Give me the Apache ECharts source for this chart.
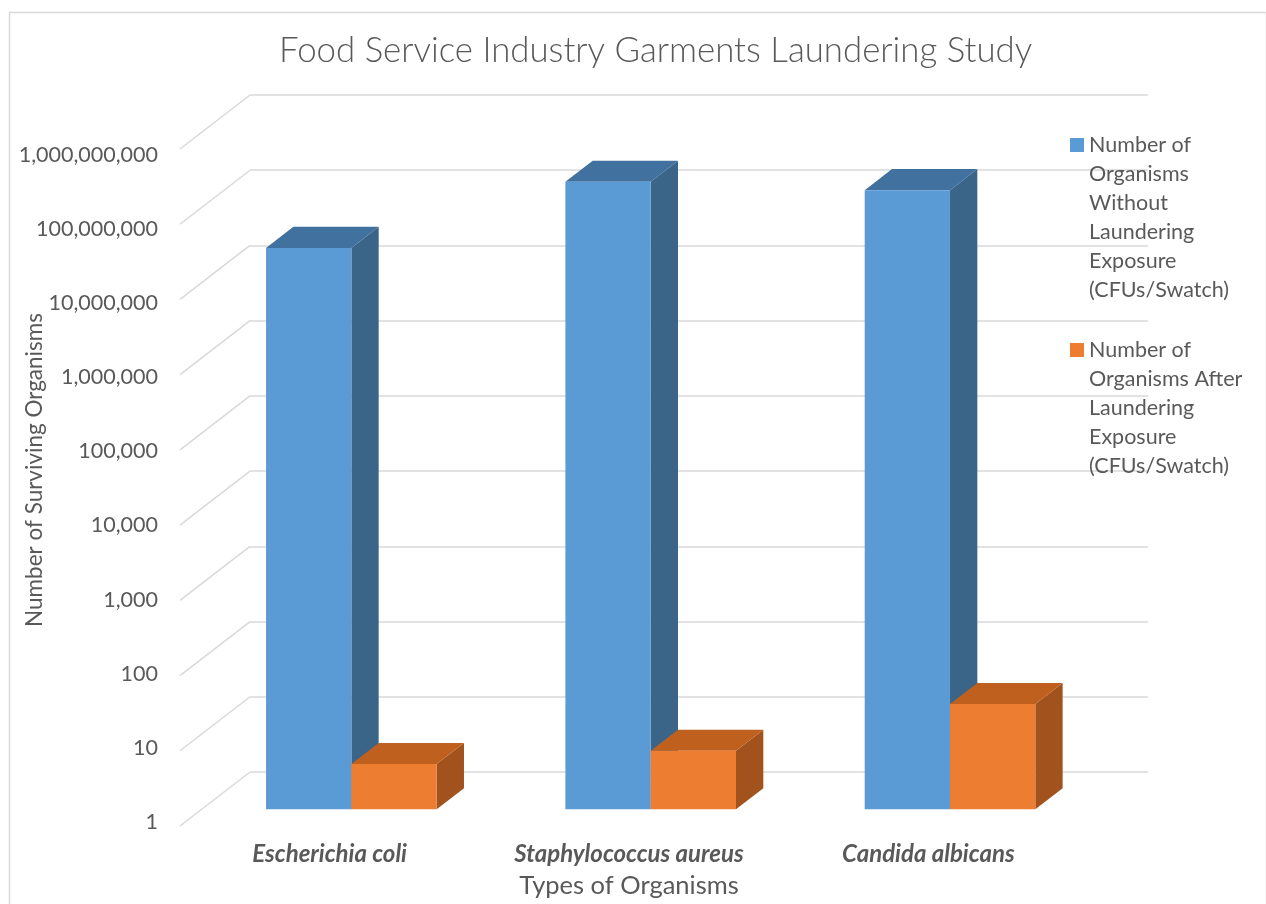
<!DOCTYPE html>
<html>
<head>
<meta charset="utf-8">
<script src="https://cdn.jsdelivr.net/npm/echarts@6/dist/echarts.min.js"></script>
<style>
  html, body { margin: 0; padding: 0; background: #ffffff; }
  #chart { width: 1266px; height: 904px; }
</style>
</head>
<body>
<div id="chart"></div>
<script>
// ---- data ----
const categories = ['Escherichia coli', 'Staphylococcus aureus', 'Candida albicans'];
const withoutLaundering = [29000000, 220000000, 170000000];
const afterLaundering = [4, 6, 25];
const yTickValues = [1, 10, 100, 1000, 10000, 100000, 1000000, 10000000, 100000000, 1000000000];
const seriesNames = [
  'Number of Organisms Without Laundering Exposure (CFUs/Swatch)',
  'Number of Organisms After Laundering Exposure (CFUs/Swatch)'
];
const legendLines = [
  ['Number of', 'Organisms', 'Without', 'Laundering', 'Exposure', '(CFUs/Swatch)'],
  ['Number of', 'Organisms After', 'Laundering', 'Exposure', '(CFUs/Swatch)']
];

// ---- oblique projection of the 3D box ----
const WALL_TO_FRONT = { dx: -70, dy: 54 };   // back wall -> front edge of floor
const BAR_FRONT = 0.69;                       // depth of the bar front faces (0 = wall, 1 = front)
const BAR_DEPTH = 0.39;                       // depth of each bar
const BAR_FRAC = 0.285;                       // bar width as share of a category band

const FONT = 'Lato, "Open Sans", sans-serif';
const TXT = '#595959';
const GRID_COLOR = '#d9d9d9';
const LEGEND_LH = 29;

const faceColors = [
  { front: '#5b9bd5', top: '#41719f', side: '#3a6488' },
  { front: '#ed7d31', top: '#c0601f', side: '#a1521d' }
];

function barRenderer(idx) {
  return function (params, api) {
    const cat = api.value(0);
    const v = api.value(1);
    const topPt = api.coord([cat, v]);
    const basePt = api.coord([cat, 1]);
    const band = api.size([1, 0])[0];
    const w = band * BAR_FRAC;
    const fdx = WALL_TO_FRONT.dx * BAR_FRONT, fdy = WALL_TO_FRONT.dy * BAR_FRONT;
    const ddx = -WALL_TO_FRONT.dx * BAR_DEPTH, ddy = -WALL_TO_FRONT.dy * BAR_DEPTH;
    const x0 = topPt[0] + fdx + (idx === 0 ? -w : 0);
    const x1 = x0 + w;
    const yT = topPt[1] + fdy;
    const yB = basePt[1] + fdy;
    const c = faceColors[idx];
    return {
      type: 'group',
      children: [
        { type: 'polygon', shape: { points: [[x1, yT], [x1 + ddx, yT + ddy], [x1 + ddx, yB + ddy], [x1, yB]] },
          style: { fill: c.side } },
        { type: 'polygon', shape: { points: [[x0, yT], [x1, yT], [x1 + ddx, yT + ddy], [x0 + ddx, yT + ddy]] },
          style: { fill: c.top } },
        { type: 'rect', shape: { x: x0, y: yT, width: w, height: yB - yT },
          style: { fill: c.front } }
      ]
    };
  };
}

function floorRenderer(params, api) {
  const y = api.coord([0, api.value(1)])[1];
  const x = params.coordSys.x;
  return {
    type: 'line',
    shape: { x1: x, y1: y, x2: x + WALL_TO_FRONT.dx, y2: y + WALL_TO_FRONT.dy },
    style: { stroke: GRID_COLOR, lineWidth: 1.5 }
  };
}

// Legend text is centred on its swatch; blank lines above the wrapped name
// bring the swatch level with the first line.
function legendFor(i, top) {
  const lines = legendLines[i];
  const blanks = [];
  for (let k = 1; k < lines.length; k++) blanks.push(' ');
  const text = blanks.concat(lines).join('\n');
  return {
    data: [seriesNames[i]],
    orient: 'vertical',
    left: 1070,
    top: top,
    padding: 0,
    icon: 'rect',
    itemWidth: 14,
    itemHeight: 14,
    selectedMode: false,
    formatter: function () { return text; },
    textStyle: { fontFamily: FONT, fontSize: 21.5, color: TXT, lineHeight: LEGEND_LH }
  };
}

const chart = echarts.init(document.getElementById('chart'), null, { renderer: 'canvas' });

chart.setOption({
  backgroundColor: '#ffffff',
  animation: false,
  title: {
    text: 'Food Service Industry Garments Laundering Study',
    left: 274,
    top: 28,
    textStyle: { fontFamily: FONT, fontSize: 34.8, fontWeight: 300, color: TXT }
  },
  graphic: [
    {
      type: 'rect', left: 7, top: 10, silent: true,
      shape: { width: 1257, height: 900 },
      style: { fill: 'none', stroke: '#d9d9d9', lineWidth: 1.5 }
    },
    {
      type: 'text', silent: true, x: 35, y: 470, rotation: Math.PI / 2,
      style: {
        text: 'Number of Surviving Organisms', align: 'center', verticalAlign: 'middle',
        fontFamily: FONT, fontSize: 22.5, fill: TXT
      }
    }
  ],
  legend: [legendFor(0, -14.5), legendFor(1, 219.5)],
  grid: [
    // back wall
    { left: 250, right: 118, top: 95, bottom: 132 },
    // front edge of the floor, carrying the labels
    { left: 180, right: 188, top: 155, bottom: 72 }
  ],
  xAxis: [
    { type: 'category', gridIndex: 0, data: categories, show: false, boundaryGap: true },
    {
      type: 'category', gridIndex: 1, data: categories, boundaryGap: true,
      axisLine: { show: false }, axisTick: { show: false },
      axisLabel: { margin: 20, fontFamily: FONT, fontSize: 24, fontWeight: 'bold', fontStyle: 'italic', color: TXT },
      name: 'Types of Organisms', nameLocation: 'middle', nameGap: 51,
      nameTextStyle: { fontFamily: FONT, fontSize: 25.5, color: TXT }
    }
  ],
  yAxis: [
    {
      type: 'log', gridIndex: 0, logBase: 10, min: 1, max: 1000000000, splitNumber: 9,
      axisLine: { show: false }, axisTick: { show: false }, axisLabel: { show: false },
      splitLine: { show: true, lineStyle: { color: GRID_COLOR, width: 1.5 } }
    },
    {
      type: 'log', gridIndex: 1, logBase: 10, min: 1, max: 1000000000, splitNumber: 9,
      axisLine: { show: false }, axisTick: { show: false }, splitLine: { show: false },
      axisLabel: {
        margin: 22, fontFamily: FONT, fontSize: 21.5, color: TXT,
        formatter: function (v) { return Math.round(v).toLocaleString('en-US'); }
      }
    }
  ],
  series: [
    {
      type: 'custom', name: 'floor', silent: true, xAxisIndex: 0, yAxisIndex: 0,
      renderItem: floorRenderer,
      data: yTickValues.map(function (v) { return [0, v]; }),
      z: 1
    },
    {
      type: 'custom', name: seriesNames[0], xAxisIndex: 0, yAxisIndex: 0,
      itemStyle: { color: faceColors[0].front },
      renderItem: barRenderer(0),
      encode: { x: 0, y: 1 },
      data: withoutLaundering.map(function (v, i) { return [i, v]; }),
      z: 2
    },
    {
      type: 'custom', name: seriesNames[1], xAxisIndex: 0, yAxisIndex: 0,
      itemStyle: { color: faceColors[1].front },
      renderItem: barRenderer(1),
      encode: { x: 0, y: 1 },
      data: afterLaundering.map(function (v, i) { return [i, v]; }),
      z: 3
    }
  ]
});
</script>
</body>
</html>
